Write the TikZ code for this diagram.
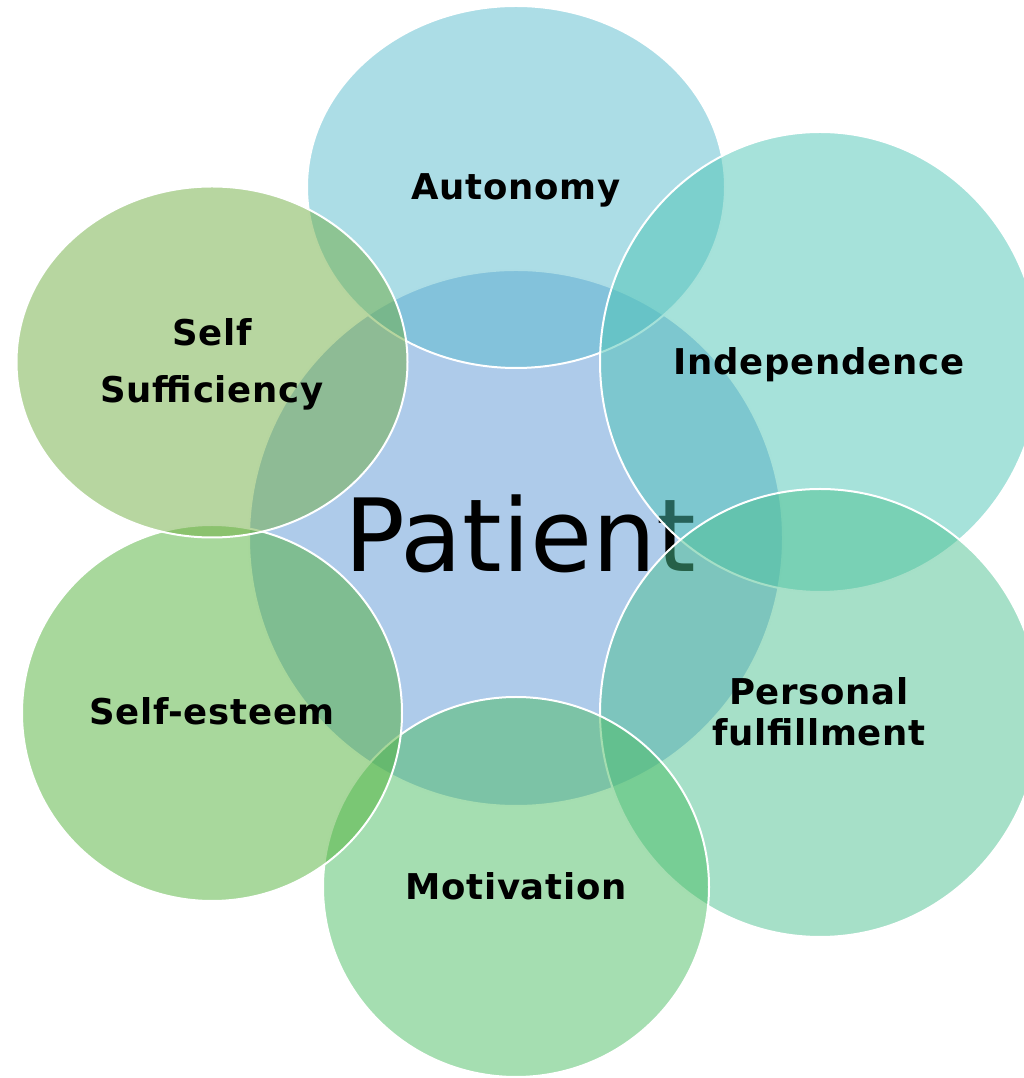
\documentclass[tikz,border=0pt]{standalone}
\usepackage{fontspec}
\setmainfont{DejaVu Sans}
\newfontfamily\lblfont[LetterSpace=2]{DejaVu Sans}
\usetikzlibrary{shapes.geometric}
\definecolor{cPat}{RGB}{174,203,234}
\definecolor{cAut}{RGB}{89,187,205}
\definecolor{cInd}{RGB}{77,197,181}
\definecolor{cPer}{RGB}{77,193,145}
\definecolor{cMot}{RGB}{75,189,99}
\definecolor{cEst}{RGB}{81,177,57}
\definecolor{cSuf}{RGB}{111,173,65}
\tikzset{
  bubble/.style={ellipse, inner sep=0pt, draw=white, line width=2pt, fill opacity=0.5, draw opacity=1},
  lbl/.style={font=\lblfont\fontsize{35.5}{40}\selectfont\bfseries, anchor=base, inner sep=0pt}
}
\begin{document}
\begin{tikzpicture}[x=1pt,y=1pt]
\useasboundingbox (0,0) rectangle (1024,1078);
\clip (0,0) rectangle (1024,1078);
\node[bubble, fill=cPat, fill opacity=1, minimum width=534pt, minimum height=536pt] (pat) at (516,540) {};
\node[anchor=base, inner sep=0pt, font=\fontsize{101}{110}\selectfont] (patl) at (520,506) {Patient};
\node[bubble, fill=cAut, minimum width=418pt, minimum height=362pt] (aut) at (516,891) {};
\node[bubble, fill=cInd, minimum width=440pt, minimum height=460pt] (ind) at (820,716) {};
\node[bubble, fill=cPer, minimum width=440pt, minimum height=448pt] (per) at (820,365) {};
\node[bubble, fill=cMot, minimum width=386pt, minimum height=380pt] (mot) at (516,191) {};
\node[bubble, fill=cEst, minimum width=380pt, minimum height=376pt] (est) at (212,365) {};
\node[bubble, fill=cSuf, minimum width=391pt, minimum height=351pt] (suf) at (212,716) {};
\node[lbl] (autl) at (516,878) {Autonomy};
\node[lbl] (indl) at (819,703) {Independence};
\node[lbl] (perl1) at (819,373) {Personal};
\node[lbl] (perl2) at (819,332) {fulfillment};
\node[lbl] (motl) at (516,178) {Motivation};
\node[lbl] (estl) at (212,353) {Self-esteem};
\node[lbl] (sufl1) at (212,732) {Self};
\node[lbl] (sufl2) at (212,675) {Sufficiency};
\end{tikzpicture}
\end{document}
